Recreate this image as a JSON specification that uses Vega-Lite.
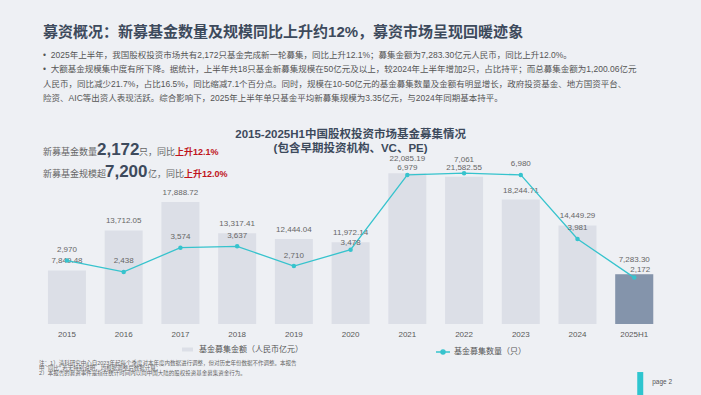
{
  "$schema": "https://vega.github.io/schema/vega-lite/v6.json",
  "width": 624,
  "height": 204,
  "autosize": {"type": "none"},
  "padding": {"left": 38.6, "top": 120, "right": 38.4, "bottom": 71},
  "background": "#eef0f4",
  "config": {
    "view": {"stroke": null},
    "font": "Liberation Sans, Noto Sans CJK SC",
    "legend": {"padding": 0}
  },
  "title": {
    "text": "募资概况：新募基金数量及规模同比上升约12%，募资市场呈现回暖迹象",
    "subtitle": [
      "•\u00a0\u00a02025年上半年，我国股权投资市场共有2,172只基金完成新一轮募集，同比上升12.1%；募集金额为7,283.30亿元人民币，同比上升12.0%。",
      "•\u00a0\u00a0大额基金规模集中度有所下降。据统计，上半年共18只基金新募集规模在50亿元及以上，较2024年上半年增加2只，占比持平；而总募集金额为1,200.06亿元",
      "\u00a0\u00a0\u00a0\u00a0人民币，同比减少21.7%，占比16.5%，同比缩减7.1个百分点。同时，规模在10-50亿元的基金募集数量及金额有明显增长，政府投资基金、地方国资平台、",
      "\u00a0\u00a0\u00a0\u00a0险资、AIC等出资人表现活跃。综合影响下，2025年上半年单只基金平均新募集规模为3.35亿元，与2024年同期基本持平。"
    ],
    "anchor": "start",
    "frame": "group",
    "dx": 4.5,
    "offset": 17,
    "font": "Liberation Sans, Noto Sans CJK SC",
    "fontSize": 15,
    "fontWeight": "bold",
    "color": "#3d4a5c",
    "subtitleFont": "Liberation Sans, Noto Sans CJK SC",
    "subtitleFontSize": 8.5,
    "subtitleColor": "#555555",
    "subtitleLineHeight": 14.6,
    "subtitlePadding": 11
  },
  "data": {
    "values": [
      {"year": "2015", "amount": 7849.48, "count": 2970},
      {"year": "2016", "amount": 13712.05, "count": 2438},
      {"year": "2017", "amount": 17888.72, "count": 3574},
      {"year": "2018", "amount": 13317.41, "count": 3637},
      {"year": "2019", "amount": 12444.04, "count": 2710},
      {"year": "2020", "amount": 11972.14, "count": 3478},
      {"year": "2021", "amount": 22085.19, "count": 6979},
      {"year": "2022", "amount": 21582.55, "count": 7061},
      {"year": "2023", "amount": 18244.71, "count": 6980},
      {"year": "2024", "amount": 14449.29, "count": 3981},
      {"year": "2025H1", "amount": 7283.30, "count": 2172}
    ]
  },
  "encoding": {
    "x": {
      "field": "year",
      "type": "ordinal",
      "scale": {"paddingInner": 0.33, "paddingOuter": 0.165},
      "axis": {
        "labelAngle": 0,
        "ticks": false,
        "domain": false,
        "grid": false,
        "labelFontSize": 8,
        "labelColor": "#595959",
        "labelPadding": 6,
        "title": [
          "注：1）清科研究中心自2023年起每个季度对本年度内数据进行调整，但对历史年份数据不作调整。本报告",
          "中 “同比” 若无特别说明，均根据调整后数据计算；",
          "\u00a0\u00a0\u00a0\u00a0\u00a02）本报告的募资事件是指在统计时间内以向中国大陆的股权投资基金募集资金行为。"
        ],
        "titleAnchor": "start",
        "titleAlign": "left",
        "titleFontSize": 5.5,
        "titleFontWeight": "normal",
        "titleColor": "#666666",
        "titleLineHeight": 5.3,
        "titlePadding": 22
      }
    }
  },
  "layer": [
    {
      "layer": [
        {
          "mark": {"type": "bar"},
          "encoding": {
            "y": {"field": "amount", "type": "quantitative", "scale": {"domain": [0, 29900]}, "axis": null},
            "fill": {
              "datum": "基金募集金额（人民币亿元）",
              "scale": {"range": ["#dcdfe7"]},
              "legend": {
                "orient": "none",
                "legendX": 143.4,
                "legendY": 224,
                "title": null,
                "symbolType": "M-1,-0.36H1V0.36H-1Z",
                "symbolSize": 121,
                "symbolStrokeWidth": 0,
                "labelFontSize": 8,
                "labelColor": "#555555",
                "labelOffset": 6,
                "labelLimit": 200
              }
            }
          }
        },
        {
          "transform": [{"filter": "datum.year === '2025H1'"}],
          "mark": {"type": "bar", "color": "#8494ab"},
          "encoding": {
            "y": {"field": "amount", "type": "quantitative", "scale": {"domain": [0, 29900]}, "axis": null}
          }
        },
        {
          "transform": [{"filter": "datum.year !== '2021' && datum.year !== '2025H1'"}],
          "mark": {"type": "text", "dy": -9, "fontSize": 8, "color": "#666666"},
          "encoding": {
            "y": {"field": "amount", "type": "quantitative", "scale": {"domain": [0, 29900]}, "axis": null},
            "text": {"field": "amount", "type": "quantitative", "format": ",.2f"}
          }
        },
        {
          "transform": [{"filter": "datum.year === '2021' || datum.year === '2025H1'"}],
          "mark": {"type": "text", "dy": -14.5, "fontSize": 8, "color": "#666666"},
          "encoding": {
            "y": {"field": "amount", "type": "quantitative", "scale": {"domain": [0, 29900]}, "axis": null},
            "text": {"field": "amount", "type": "quantitative", "format": ",.2f"}
          }
        },
        {
          "data": {"values": [{}]},
          "mark": {"type": "text", "text": ["2015-2025H1中国股权投资市场基金募集情况", "(包含早期投资机构、VC、PE)"], "align": "center", "baseline": "alphabetic", "lineHeight": 14, "fontSize": 11.5, "fontWeight": "bold", "color": "#3d4a5c"},
          "encoding": {
            "x": {"datum": "2020"},
            "y": {"datum": 27265, "type": "quantitative", "scale": {"domain": [0, 29900]}, "axis": null}
          }
        },
        {
          "data": {"values": [{}]},
          "mark": {"type": "text", "text": "新募基金数量", "align": "left", "baseline": "alphabetic", "dx": -24, "fontSize": 9, "color": "#666666"},
          "encoding": {"x": {"datum": "2015"}, "y": {"datum": 24714, "type": "quantitative", "scale": {"domain": [0, 29900]}, "axis": null}}
        },
        {
          "data": {"values": [{}]},
          "mark": {"type": "text", "text": "2,172", "align": "left", "baseline": "alphabetic", "dx": 30, "fontSize": 17, "fontWeight": "bold", "color": "#3d4a5c"},
          "encoding": {"x": {"datum": "2015"}, "y": {"datum": 24714, "type": "quantitative", "scale": {"domain": [0, 29900]}, "axis": null}}
        },
        {
          "data": {"values": [{}]},
          "mark": {"type": "text", "text": "只，同比", "align": "left", "baseline": "alphabetic", "dx": 72, "fontSize": 9, "color": "#666666"},
          "encoding": {"x": {"datum": "2015"}, "y": {"datum": 24714, "type": "quantitative", "scale": {"domain": [0, 29900]}, "axis": null}}
        },
        {
          "data": {"values": [{}]},
          "mark": {"type": "text", "text": "上升12.1%", "align": "left", "baseline": "alphabetic", "dx": 108, "fontSize": 9, "fontWeight": "bold", "color": "#c0141c"},
          "encoding": {"x": {"datum": "2015"}, "y": {"datum": 24714, "type": "quantitative", "scale": {"domain": [0, 29900]}, "axis": null}}
        },
        {
          "data": {"values": [{}]},
          "mark": {"type": "text", "text": "新募基金规模超", "align": "left", "baseline": "alphabetic", "dx": -24, "fontSize": 9, "color": "#666666"},
          "encoding": {"x": {"datum": "2015"}, "y": {"datum": 21607, "type": "quantitative", "scale": {"domain": [0, 29900]}, "axis": null}}
        },
        {
          "data": {"values": [{}]},
          "mark": {"type": "text", "text": "7,200", "align": "left", "baseline": "alphabetic", "dx": 38, "fontSize": 17, "fontWeight": "bold", "color": "#3d4a5c"},
          "encoding": {"x": {"datum": "2015"}, "y": {"datum": 21607, "type": "quantitative", "scale": {"domain": [0, 29900]}, "axis": null}}
        },
        {
          "data": {"values": [{}]},
          "mark": {"type": "text", "text": "亿，同比", "align": "left", "baseline": "alphabetic", "dx": 81, "fontSize": 9, "color": "#666666"},
          "encoding": {"x": {"datum": "2015"}, "y": {"datum": 21607, "type": "quantitative", "scale": {"domain": [0, 29900]}, "axis": null}}
        },
        {
          "data": {"values": [{}]},
          "mark": {"type": "text", "text": "上升12.0%", "align": "left", "baseline": "alphabetic", "dx": 117, "fontSize": 9, "fontWeight": "bold", "color": "#c0141c"},
          "encoding": {"x": {"datum": "2015"}, "y": {"datum": 21607, "type": "quantitative", "scale": {"domain": [0, 29900]}, "axis": null}}
        },
        {
          "data": {"values": [{}]},
          "mark": {"type": "rule", "color": "#2ec5cf", "strokeWidth": 6, "xOffset": 6},
          "encoding": {"x": {"datum": "2025H1"}, "y": {"datum": -7040, "type": "quantitative", "scale": {"domain": [0, 29900]}, "axis": null}, "y2": {"datum": -10500}}
        },
        {
          "data": {"values": [{}]},
          "mark": {"type": "text", "text": "page   2", "align": "left", "baseline": "middle", "dx": 18, "fontSize": 6.5, "color": "#555555"},
          "encoding": {"x": {"datum": "2025H1"}, "y": {"datum": -8502, "type": "quantitative", "scale": {"domain": [0, 29900]}, "axis": null}}
        }
      ]
    },
    {
      "layer": [
        {
          "mark": {"type": "line", "strokeWidth": 1.3},
          "encoding": {
            "y": {"field": "count", "type": "quantitative", "scale": {"domain": [0, 9550]}, "axis": null},
            "stroke": {
              "datum": "基金募集数量（只）",
              "scale": {"range": ["#36c3cd"]},
              "legend": {
                "orient": "none",
                "legendX": 396.4,
                "legendY": 224,
                "title": null,
                "symbolType": "M-1,0L1,0M0.3,0A0.3,0.3 0 1 1 -0.3,0A0.3,0.3 0 1 1 0.3,0",
                "symbolSize": 196,
                "symbolStrokeWidth": 1.3,
                "symbolFillColor": "#36c3cd",
                "labelFontSize": 8,
                "labelColor": "#555555",
                "labelOffset": 3,
                "labelLimit": 200,
                "encode": {"symbols": {"update": {"fill": {"value": "#36c3cd"}}}}
              }
            }
          }
        },
        {
          "mark": {"type": "point", "filled": true, "color": "#36c3cd", "size": 20, "opacity": 1},
          "encoding": {
            "y": {"field": "count", "type": "quantitative", "scale": {"domain": [0, 9550]}, "axis": null}
          }
        },
        {
          "transform": [{"filter": "datum.year !== '2020' && datum.year !== '2021' && datum.year !== '2022' && datum.year !== '2025H1'"}],
          "mark": {"type": "text", "dy": -10.5, "fontSize": 8, "color": "#666666"},
          "encoding": {
            "y": {"field": "count", "type": "quantitative", "scale": {"domain": [0, 9550]}, "axis": null},
            "text": {"field": "count", "type": "quantitative", "format": ",d"}
          }
        },
        {
          "transform": [{"filter": "datum.year === '2020' || datum.year === '2021'"}],
          "mark": {"type": "text", "dy": -6.5, "fontSize": 8, "color": "#666666"},
          "encoding": {
            "y": {"field": "count", "type": "quantitative", "scale": {"domain": [0, 9550]}, "axis": null},
            "text": {"field": "count", "type": "quantitative", "format": ",d"}
          }
        },
        {
          "transform": [{"filter": "datum.year === '2022'"}],
          "mark": {"type": "text", "dy": -13.5, "fontSize": 8, "color": "#666666"},
          "encoding": {
            "y": {"field": "count", "type": "quantitative", "scale": {"domain": [0, 9550]}, "axis": null},
            "text": {"field": "count", "type": "quantitative", "format": ",d"}
          }
        },
        {
          "transform": [{"filter": "datum.year === '2025H1'"}],
          "mark": {"type": "text", "dy": -7.5, "dx": 6, "fontSize": 8, "color": "#666666"},
          "encoding": {
            "y": {"field": "count", "type": "quantitative", "scale": {"domain": [0, 9550]}, "axis": null},
            "text": {"field": "count", "type": "quantitative", "format": ",d"}
          }
        }
      ]
    }
  ],
  "resolve": {"scale": {"y": "independent"}}
}
